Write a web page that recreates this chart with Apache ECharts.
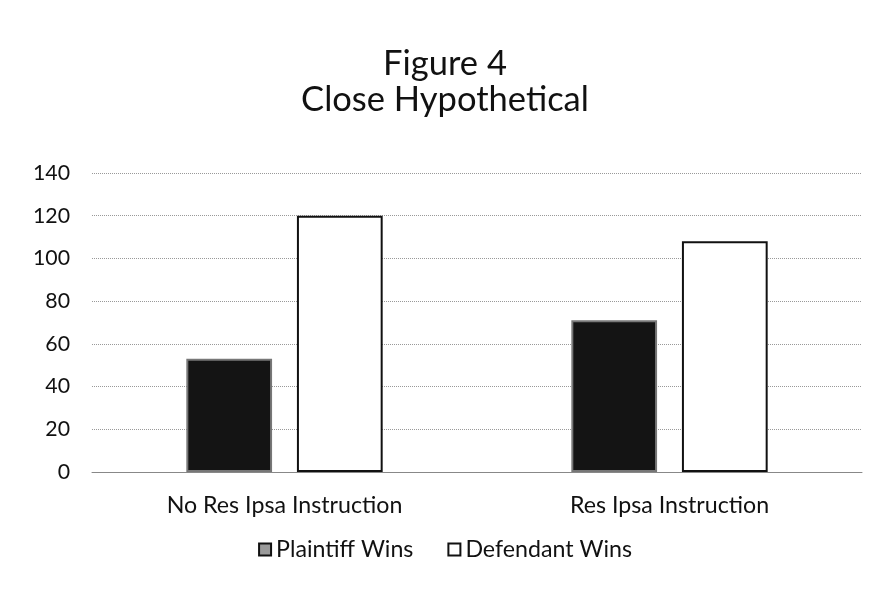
<!DOCTYPE html>
<html>
<head>
<meta charset="utf-8">
<script src="https://cdn.jsdelivr.net/npm/echarts@6/dist/echarts.min.js"></script>
<style>
  html, body { margin: 0; padding: 0; background: #fff; }
  #main { width: 890px; height: 589px; }
</style>
</head>
<body>
<div id="main"></div>
<script>
// 类目 和 数据
var categories = ['No Res Ipsa Instruction', 'Res Ipsa Instruction'];
var plaintiffWins = [53, 71];
var defendantWins = [120, 108];
var yTicks = [0, 20, 40, 60, 80, 100, 120, 140];

var FONT = 'Lato';

// 按目标宽度算字号 (原图是 Calibri, 这里用 Lato 撑到同样宽度)
function fitSize(text, width) {
    var ctx = document.createElement('canvas').getContext('2d');
    ctx.font = '100px ' + FONT;
    return Math.round(100 * width / ctx.measureText(text).width * 10) / 10;
}

var titleSize = fitSize('Close Hypothetical', 288);
var labelSize = fitSize(categories[0], 236);
var tickSize = fitSize('140', 37);

var chart = echarts.init(document.getElementById('main'));

var option = {
    backgroundColor: '#fff',
    textStyle: { fontFamily: FONT, color: '#111' },
    title: {
        text: 'Figure 4\nClose Hypothetical',
        left: 'center',
        top: 41,
        textStyle: {
            fontSize: titleSize,
            fontWeight: 'normal',
            color: '#111',
            lineHeight: 36,
            fontFamily: FONT
        }
    },
    legend: {
        bottom: 23,
        left: 'center',
        itemWidth: 12,
        itemHeight: 12,
        itemGap: 34,
        textStyle: { fontSize: labelSize, color: '#111' },
        data: [
            { name: 'Plaintiff Wins', icon: 'rect', itemStyle: { color: '#9a9a9a', borderColor: '#111', borderWidth: 2 } },
            { name: 'Defendant Wins', icon: 'rect', itemStyle: { color: '#fff', borderColor: '#111', borderWidth: 2 } }
        ]
    },
    grid: {
        left: 92,
        right: 28,
        top: 173,
        bottom: 117
    },
    xAxis: {
        type: 'category',
        data: categories,
        axisLine: { show: true, lineStyle: { color: '#888', width: 1 } },
        axisTick: { show: false },
        axisLabel: { fontSize: labelSize, color: '#111', margin: 22 }
    },
    yAxis: {
        type: 'value',
        min: yTicks[0],
        max: yTicks[yTicks.length - 1],
        interval: 20,
        axisLine: { show: false },
        axisTick: { show: false },
        axisLabel: { fontSize: tickSize, color: '#111', margin: 22 },
        splitLine: { lineStyle: { color: '#999', type: 'dotted', width: 1 } }
    },
    series: [
        {
            name: 'Plaintiff Wins',
            type: 'bar',
            data: plaintiffWins,
            barGap: '29%',
            barCategoryGap: '49%',
            itemStyle: { color: '#141414', borderColor: '#777', borderWidth: 2 }
        },
        {
            name: 'Defendant Wins',
            type: 'bar',
            data: defendantWins,
            itemStyle: { color: '#fff', borderColor: '#111', borderWidth: 2 }
        }
    ]
};

chart.setOption(option);
window.addEventListener('resize', function () {
    chart.resize();
});
</script>
</body>
</html>
